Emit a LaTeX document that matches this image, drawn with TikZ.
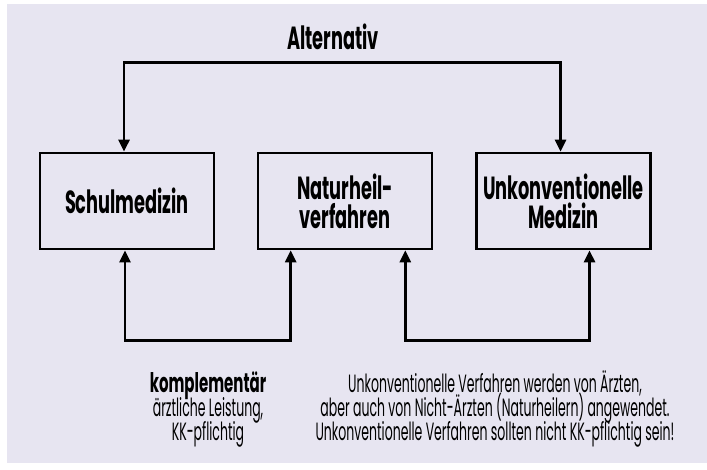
\documentclass[tikz,border=0pt]{standalone}
\usepackage{fontspec}
\setmainfont{Poppins}[FakeStretch=0.555]
\newfontfamily\notefont{Poppins}[FakeStretch=0.5]
\usepackage{tikz}
\usetikzlibrary{arrows.meta}

\definecolor{panel}{RGB}{231,229,241}
\newcommand{\tightlines}{\lineskiplimit=-100pt\relax}

\begin{document}
\begin{tikzpicture}[x=1pt,y=-1pt,>={Triangle[length=12pt,width=11pt]},
    box/.style={draw,line width=2.6pt,minimum width=174pt,minimum height=96pt,inner sep=0pt,
      align=center,font=\fontsize{32}{29}\selectfont\bfseries\tightlines},
    conn/.style={line width=2.6pt,<->},
    note/.style={align=center,font=\notefont\fontsize{25}{24}\selectfont\tightlines,anchor=base}]
  \useasboundingbox (0,0) rectangle (707,469);
  \fill[panel] (7,4) rectangle (707,463);
  \node[box] (schul) at (127,201) {Schulmedizin};
  \node[box] (natur) at (345,201) {Naturheil-\\verfahren};
  \node[box] (unkonv) at (563.5,201) {Unkonventionelle\\Medizin};
  \node[anchor=base,font=\fontsize{32}{29}\selectfont\bfseries] (alt) at (333,49) {Alternativ};
  % Verbindungen
  \draw[conn] ([xshift=-3pt]schul.north) -- ++(0,-89) -| ([xshift=-3pt]unkonv.north);
  \draw[conn] ([xshift=-2pt]schul.south) -- ++(0,90) -| ([xshift=34pt]natur.south west);
  \draw[conn] ([xshift=-28pt]natur.south east) -- ++(0,90) -| ([xshift=26pt]unkonv.south);
  % Erläuterungen
  \node[note] (kompl) at (208,440) {{\normalfont\fontsize{27}{24}\selectfont\bfseries komplementär}\\ärztliche Leistung,\\KK-pflichtig};
  \node[note] (hinweis) at (495,440) {Unkonventionelle Verfahren werden von Ärzten,\\aber auch von Nicht-Ärzten (Naturheilern) angewendet.\\Unkonventionelle Verfahren sollten nicht KK-pflichtig sein!};
\end{tikzpicture}
\end{document}
